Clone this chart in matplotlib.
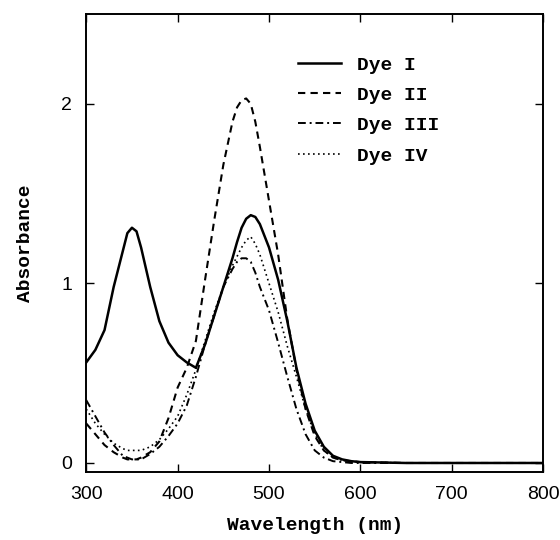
import matplotlib.pyplot as plt
import numpy as np

# wavelengths (nm)
wl = [300, 310, 320, 330, 340, 345, 350, 355, 360, 370, 380, 390, 400, 410, 420, 430,
      440, 450, 460, 465, 470, 475, 480, 485, 490, 500, 510, 520, 530, 540, 550, 560, 570,
      580, 590, 600, 650, 700, 750, 800]

dye1 = [0.56, 0.63, 0.74, 0.98, 1.18, 1.28, 1.31, 1.29, 1.20, 0.98, 0.79, 0.67, 0.60, 0.56, 0.53, 0.66,
        0.82, 0.98, 1.14, 1.23, 1.31, 1.36, 1.38, 1.37, 1.33, 1.20, 1.02, 0.79, 0.53, 0.33, 0.18, 0.09, 0.04,
        0.02, 0.01, 0.005, 0.0, 0.0, 0.0, 0.0]
dye2 = [0.22, 0.16, 0.10, 0.06, 0.03, 0.02, 0.02, 0.02, 0.03, 0.06, 0.12, 0.25, 0.42, 0.53, 0.68, 1.02,
        1.35, 1.66, 1.90, 1.98, 2.02, 2.03, 2.00, 1.90, 1.76, 1.46, 1.16, 0.80, 0.52, 0.30, 0.15, 0.07, 0.03,
        0.015, 0.01, 0.005, 0.0, 0.0, 0.0, 0.0]
dye3 = [0.35, 0.26, 0.17, 0.10, 0.04, 0.03, 0.02, 0.02, 0.02, 0.05, 0.09, 0.15, 0.22, 0.32, 0.48, 0.66,
        0.82, 0.98, 1.08, 1.12, 1.14, 1.14, 1.12, 1.06, 0.98, 0.85, 0.67, 0.48, 0.30, 0.16, 0.07, 0.03, 0.01,
        0.005, 0.0, 0.0, 0.0, 0.0, 0.0, 0.0]
dye4 = [0.30, 0.22, 0.16, 0.11, 0.08, 0.07, 0.07, 0.07, 0.07, 0.09, 0.13, 0.19, 0.26, 0.38, 0.52, 0.68,
        0.84, 0.98, 1.10, 1.15, 1.20, 1.24, 1.26, 1.22, 1.16, 1.00, 0.84, 0.65, 0.48, 0.30, 0.16, 0.07, 0.03,
        0.015, 0.01, 0.005, 0.0, 0.0, 0.0, 0.0]

labels = ["Dye I", "Dye II", "Dye III", "Dye IV"]

mono = "Liberation Mono"

fig = plt.figure(figsize=(5.6, 5.4), dpi=100)
ax = fig.add_axes([0.154, 0.126, 0.816, 0.848])

ax.plot(wl, dye1, color="black", lw=1.8, ls="-", label=labels[0])
ax.plot(wl, dye2, color="black", lw=1.5, ls=(0, (3.5, 2.5)), label=labels[1])
ax.plot(wl, dye3, color="black", lw=1.4, ls=(0, (4, 2, 1, 2)), label=labels[2])
ax.plot(wl, dye4, color="black", lw=1.2, ls=(0, (1, 2)), label=labels[3])

ax.set_xlim(300, 800)
ax.set_ylim(-0.05, 2.5)
ax.set_xticks([300, 400, 500, 600, 700, 800])
ax.set_yticks([0, 1, 2])
ax.tick_params(direction="in", length=6, width=1, top=True, right=True,
               labelsize=14, pad=10)
for lab in ax.get_xticklabels() + ax.get_yticklabels():
    lab.set_family("Liberation Sans")
for sp in ax.spines.values():
    sp.set_linewidth(1.4)

ax.set_xlabel("Wavelength (nm)", family=mono, fontweight="bold", fontsize=14, labelpad=10)
ax.set_ylabel("Absorbance", family=mono, fontweight="bold", fontsize=14, labelpad=20)

ax.legend(loc="upper left", bbox_to_anchor=(0.464, 0.908), frameon=False,
          prop={"family": mono, "weight": "bold", "size": 14},
          handlelength=2.2, handletextpad=0.8, labelspacing=0.65,
          borderpad=0, borderaxespad=0)

fig.savefig("out.png", dpi=100)
